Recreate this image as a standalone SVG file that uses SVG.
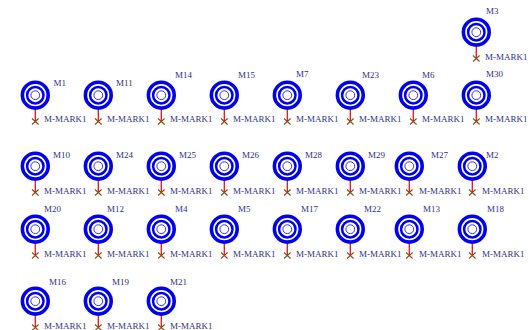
<svg xmlns="http://www.w3.org/2000/svg" width="532" height="330" viewBox="0 0 532 330">
<style>
text{font-family:"Liberation Serif","Times New Roman",serif;font-size:9px;fill:#30308a}
.a{fill:none;stroke:#0000ee;stroke-width:3.6}
.b{fill:none;stroke:#0000ee;stroke-width:2.5}
.c{fill:none;stroke:#3333ee;stroke-width:1}
.l{stroke:#ee1111;stroke-width:1.3;fill:none}
.x{stroke:#8a4a1a;stroke-width:1.1;fill:none}
</style>
<defs>
<g id="sym"><circle class="a" cx="0.3" cy="0.2" r="12.9"/><circle class="b" cx="0.3" cy="0.2" r="8.2"/><circle class="c" cx="0.3" cy="0.2" r="4.4"/></g>
<g id="cx"><path class="l" d="M0.3 15V26"/><path class="x" d="M-3 23.5L3.6 29.5M3.6 23.5L-3 29.5"/></g>
</defs>
<g id="connectors">
<use href="#cx" x="476" y="32"/>
<use href="#cx" x="35" y="95"/><use href="#cx" x="98" y="95"/><use href="#cx" x="161" y="95"/><use href="#cx" x="224" y="95"/><use href="#cx" x="287" y="95"/><use href="#cx" x="350" y="95"/><use href="#cx" x="413" y="95"/><use href="#cx" x="476" y="95"/>
<use href="#cx" x="35" y="166"/><use href="#cx" x="98" y="166"/><use href="#cx" x="161" y="166"/><use href="#cx" x="224" y="166"/><use href="#cx" x="287" y="166"/><use href="#cx" x="350" y="166"/><use href="#cx" x="409" y="166"/><use href="#cx" x="472" y="166"/>
<use href="#cx" x="35" y="229"/><use href="#cx" x="98" y="229"/><use href="#cx" x="161" y="229"/><use href="#cx" x="224" y="229"/><use href="#cx" x="287" y="229"/><use href="#cx" x="350" y="229"/><use href="#cx" x="409" y="229"/><use href="#cx" x="472" y="229"/>
<use href="#cx" x="35" y="301"/><use href="#cx" x="98" y="301"/><use href="#cx" x="161" y="301"/>
</g>
<g id="M3"><use href="#sym" x="476" y="32"/><text x="486" y="13.5">M3</text><text x="485" y="60">M-MARK1</text></g>
<g id="M1"><use href="#sym" x="35" y="95"/><text x="53.5" y="85.5">M1</text><text x="44" y="122">M-MARK1</text></g>
<g id="M11"><use href="#sym" x="98" y="95"/><text x="116" y="85.5">M11</text><text x="107" y="122">M-MARK1</text></g>
<g id="M14"><use href="#sym" x="161" y="95"/><text x="175" y="78">M14</text><text x="170" y="122">M-MARK1</text></g>
<g id="M15"><use href="#sym" x="224" y="95"/><text x="238" y="78">M15</text><text x="233" y="122">M-MARK1</text></g>
<g id="M7"><use href="#sym" x="287" y="95"/><text x="296" y="77">M7</text><text x="296" y="122">M-MARK1</text></g>
<g id="M23"><use href="#sym" x="350" y="95"/><text x="362" y="78">M23</text><text x="359" y="122">M-MARK1</text></g>
<g id="M6"><use href="#sym" x="413" y="95"/><text x="422" y="78">M6</text><text x="422" y="122">M-MARK1</text></g>
<g id="M30"><use href="#sym" x="476" y="95"/><text x="486" y="77">M30</text><text x="485" y="122">M-MARK1</text></g>
<g id="M10"><use href="#sym" x="35" y="166"/><text x="53" y="158">M10</text><text x="44" y="194">M-MARK1</text></g>
<g id="M24"><use href="#sym" x="98" y="166"/><text x="116" y="158">M24</text><text x="107" y="194">M-MARK1</text></g>
<g id="M25"><use href="#sym" x="161" y="166"/><text x="179" y="158">M25</text><text x="170" y="194">M-MARK1</text></g>
<g id="M26"><use href="#sym" x="224" y="166"/><text x="242" y="158">M26</text><text x="233" y="194">M-MARK1</text></g>
<g id="M28"><use href="#sym" x="287" y="166"/><text x="305" y="158">M28</text><text x="296" y="194">M-MARK1</text></g>
<g id="M29"><use href="#sym" x="350" y="166"/><text x="368" y="158">M29</text><text x="359" y="194">M-MARK1</text></g>
<g id="M27"><use href="#sym" x="409" y="166"/><text x="431" y="158">M27</text><text x="419" y="194">M-MARK1</text></g>
<g id="M2"><use href="#sym" x="472" y="166"/><text x="486" y="158">M2</text><text x="482" y="194">M-MARK1</text></g>
<g id="M20"><use href="#sym" x="35" y="229"/><text x="44" y="212">M20</text><text x="44" y="257">M-MARK1</text></g>
<g id="M12"><use href="#sym" x="98" y="229"/><text x="107" y="212">M12</text><text x="107" y="257">M-MARK1</text></g>
<g id="M4"><use href="#sym" x="161" y="229"/><text x="175" y="212">M4</text><text x="170" y="257">M-MARK1</text></g>
<g id="M5"><use href="#sym" x="224" y="229"/><text x="238" y="212">M5</text><text x="233" y="257">M-MARK1</text></g>
<g id="M17"><use href="#sym" x="287" y="229"/><text x="301" y="212">M17</text><text x="296" y="257">M-MARK1</text></g>
<g id="M22"><use href="#sym" x="350" y="229"/><text x="364" y="212">M22</text><text x="359" y="257">M-MARK1</text></g>
<g id="M13"><use href="#sym" x="409" y="229"/><text x="423" y="212">M13</text><text x="419" y="257">M-MARK1</text></g>
<g id="M18"><use href="#sym" x="472" y="229"/><text x="487" y="212">M18</text><text x="482" y="257">M-MARK1</text></g>
<g id="M16"><use href="#sym" x="35" y="301"/><text x="49" y="285">M16</text><text x="44" y="329">M-MARK1</text></g>
<g id="M19"><use href="#sym" x="98" y="301"/><text x="112" y="285">M19</text><text x="107" y="329">M-MARK1</text></g>
<g id="M21"><use href="#sym" x="161" y="301"/><text x="170" y="285">M21</text><text x="170" y="329">M-MARK1</text></g>
</svg>
